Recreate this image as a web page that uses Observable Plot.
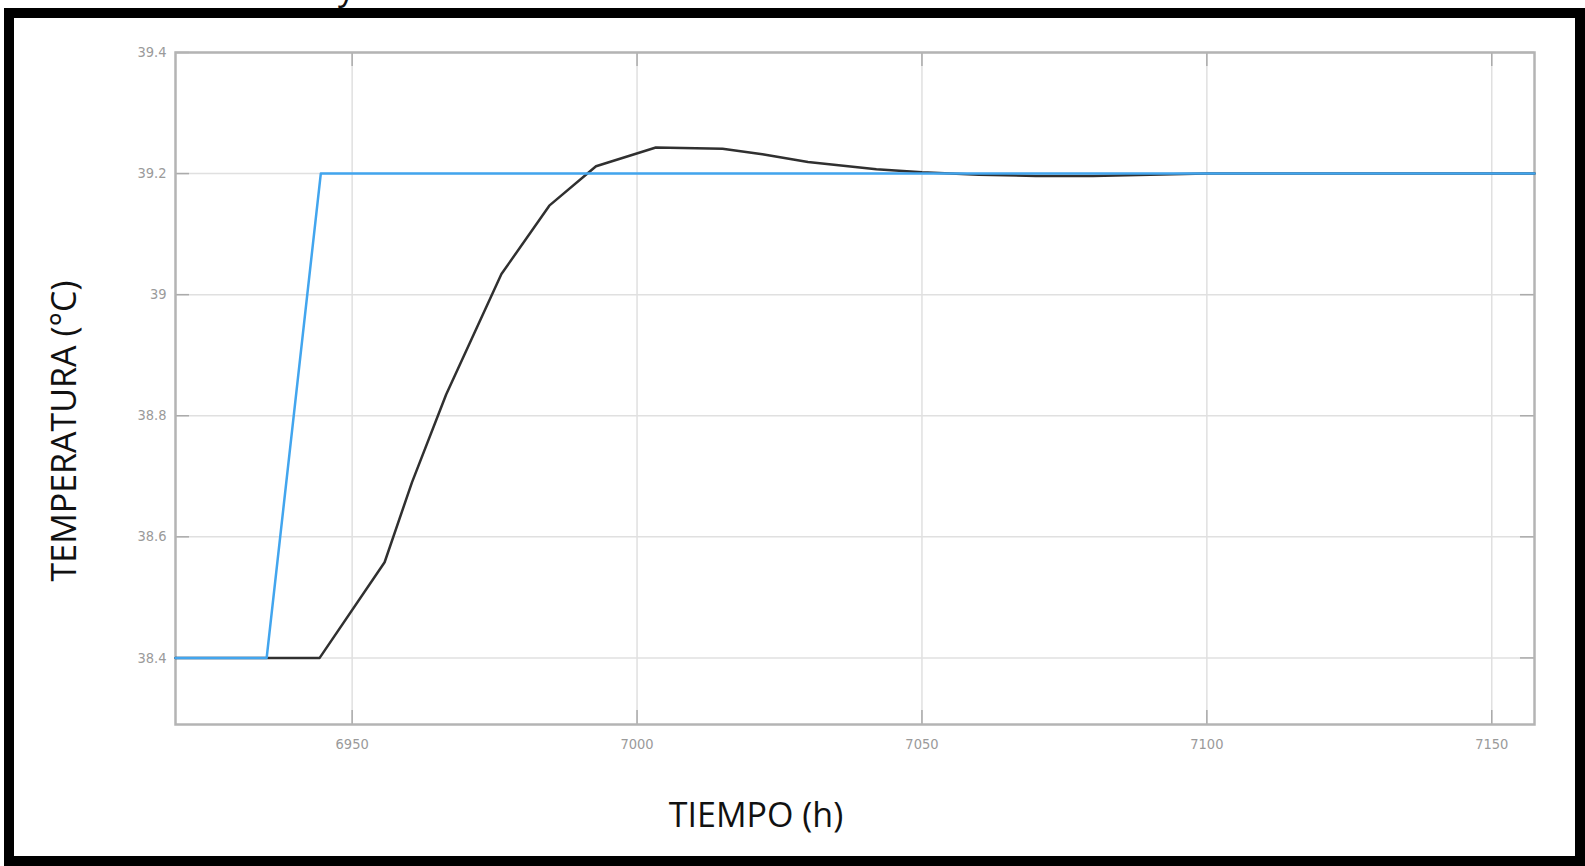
<!DOCTYPE html>
<html><head><meta charset="utf-8">
<script src="https://cdn.jsdelivr.net/npm/d3@7"></script>
<script src="https://cdn.jsdelivr.net/npm/@observablehq/plot@0.6"></script>
<style>
html,body{margin:0;padding:0;background:#fff;width:1585px;height:866px;overflow:hidden;}
#wrap{position:relative;width:1585px;height:866px;}
#chart{position:absolute;left:0;top:0;}
#border{position:absolute;left:4px;top:8px;width:1581px;height:858px;box-sizing:border-box;border:10px solid #000;}
.lab{position:absolute;font-family:"Open Sans";color:#111;white-space:nowrap;line-height:1;}
#xlab{left:756px;top:814px;font-size:34px;transform:translate(-50%,-50%);}
#ylab{left:63px;top:431px;font-size:34px;transform:translate(-50%,-50%) rotate(-90deg);}
#frag{left:338px;top:-30px;font-size:34px;}
</style></head><body>
<div id="wrap">
<div id="chart"></div>
<div id="border"></div>
<div class="lab" id="xlab">TIEMPO (h)</div>
<div class="lab" id="ylab">TEMPERATURA (°C)</div>
<div class="lab" id="frag">y</div>
</div>
<script>
// Tick values and labels
const xTicks = [6950, 7000, 7050, 7100, 7150];
const xTickLabels = ["6950", "7000", "7050", "7100", "7150"];
const yTicks = [38.4, 38.6, 38.8, 39.0, 39.2, 39.4];
const yTickLabels = ["38.4", "38.6", "38.8", "39", "39.2", "39.4"];

// Setpoint (blue)
const setTime = [6919, 6935, 6944.5, 7157.5];
const setTemp = [38.4, 38.4, 39.2, 39.2];

// Measured temperature (black)
const tempTime = [6919, 6944.3, 6955.7, 6960.5, 6966.5, 6976.2, 6984.6, 6992.8, 7003.3, 7015, 7022, 7030, 7042, 7050, 7060, 7070, 7080, 7090, 7100, 7157.5];
const tempVal  = [38.4, 38.4, 38.558, 38.69, 38.835, 39.034, 39.147, 39.212, 39.243, 39.241, 39.232, 39.219, 39.207, 39.202, 39.198, 39.196, 39.196, 39.198, 39.2, 39.2];

const setData = setTime.map((t, i) => ({t, v: setTemp[i]}));
const tempData = tempTime.map((t, i) => ({t, v: tempVal[i]}));

const W = 1585, H = 866, mL = 175, mR = 51, mT = 52, mB = 142;
const plotW = W - mL - mR, plotH = H - mT - mB;
const tick = 14;
const axisColor = "#ababab";

const chart = Plot.plot({
  width: W, height: H,
  marginLeft: mL, marginRight: mR, marginTop: mT, marginBottom: mB,
  x: {domain: [6919, 7157.5], label: null},
  y: {domain: [38.29, 39.4], label: null},
  style: {background: "transparent", fontFamily: "'Liberation Sans Narrow', 'DejaVu Sans Condensed', sans-serif", fontSize: "14.5px", color: "#9a9a9a"},
  marks: [
    Plot.gridX(xTicks, {stroke: "#e0e0e0", strokeOpacity: 1, strokeWidth: 1.5}),
    Plot.gridY(yTicks, {stroke: "#e0e0e0", strokeOpacity: 1, strokeWidth: 1.5}),
    Plot.ruleX(xTicks, {x: d => d, stroke: axisColor, strokeWidth: 1.5, insetTop: plotH - tick}),
    Plot.ruleX(xTicks, {x: d => d, stroke: axisColor, strokeWidth: 1.5, insetBottom: plotH - tick}),
    Plot.ruleY(yTicks, {y: d => d, stroke: axisColor, strokeWidth: 1.5, insetRight: plotW - tick}),
    Plot.ruleY(yTicks, {y: d => d, stroke: axisColor, strokeWidth: 1.5, insetLeft: plotW - tick}),
    Plot.frame({stroke: "#b4b4b4", strokeWidth: 2.5}),
    Plot.axisX(xTicks, {tickSize: 0, tickPadding: 14, tickFormat: d => xTickLabels[xTicks.indexOf(d)], fill: "#9a9a9a"}),
    Plot.axisY(yTicks, {tickSize: 0, tickPadding: 9, tickFormat: d => yTickLabels[yTicks.indexOf(d)], fill: "#9a9a9a"}),
    Plot.line(tempData, {x: "t", y: "v", stroke: "#303030", strokeWidth: 2.5}),
    Plot.line(setData, {x: "t", y: "v", stroke: "#42a5ee", strokeWidth: 2.5})
  ]
});
document.getElementById("chart").appendChild(chart);
</script>
</body></html>
